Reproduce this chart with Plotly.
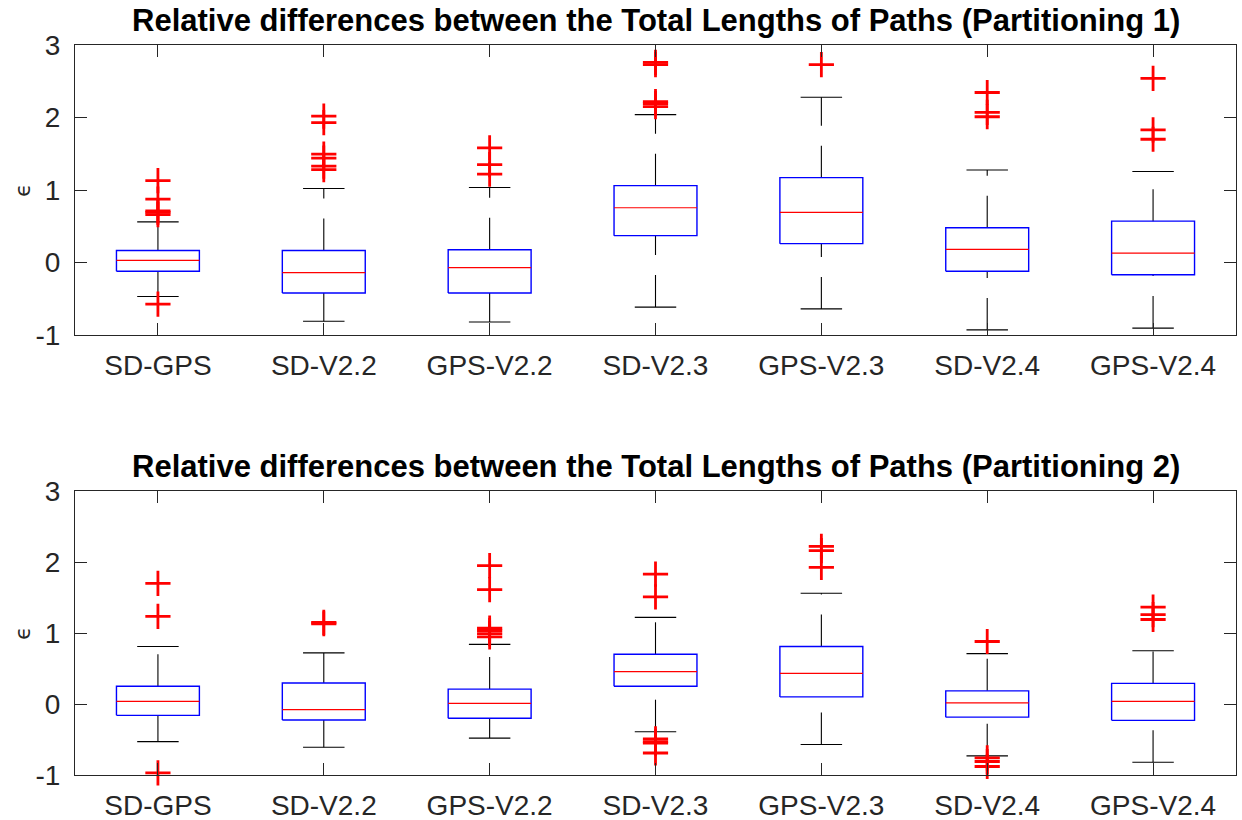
import plotly.graph_objects as go

categories = ["SD-GPS", "SD-V2.2", "GPS-V2.2", "SD-V2.3", "GPS-V2.3", "SD-V2.4", "GPS-V2.4"]
y_ticks = [-1, 0, 1, 2, 3]
y_tick_labels = ["-1", "0", "1", "2", "3"]

titles = ["Relative differences between the Total Lengths of Paths (Partitioning 1)",
          "Relative differences between the Total Lengths of Paths (Partitioning 2)"]

# Partitioning 1
p1_q1 = [-0.12, -0.42, -0.42, 0.37, 0.26, -0.12, -0.17]
p1_med = [0.03, -0.14, -0.07, 0.755, 0.69, 0.18, 0.13]
p1_q3 = [0.165, 0.165, 0.175, 1.06, 1.17, 0.48, 0.57]
p1_lo = [-0.47, -0.81, -0.82, -0.615, -0.64, -0.93, -0.905]
p1_hi = [0.56, 1.02, 1.035, 2.04, 2.28, 1.275, 1.255]
p1_out = [[1.13, 0.875, 0.71, 0.69, 0.66, -0.575],
          [2.02, 1.93, 1.495, 1.44, 1.33, 1.28],
          [1.58, 1.35, 1.22],
          [2.76, 2.73, 2.22, 2.19, 2.15],
          [2.73],
          [2.345, 2.07, 2.01],
          [2.54, 1.83, 1.70]]

# Partitioning 2
p2_q1 = [-0.16, -0.225, -0.20, 0.25, 0.10, -0.185, -0.23]
p2_med = [0.037, -0.08, 0.01, 0.455, 0.43, 0.015, 0.037]
p2_q3 = [0.25, 0.295, 0.21, 0.70, 0.81, 0.185, 0.29]
p2_lo = [-0.53, -0.61, -0.48, -0.39, -0.57, -0.73, -0.82]
p2_hi = [0.81, 0.72, 0.84, 1.22, 1.56, 0.71, 0.75]
p2_out = [[1.70, 1.235, -0.97],
          [1.15, 1.13],
          [1.95, 1.61, 1.07, 1.035, 0.99, 0.945],
          [1.83, 1.51, -0.49, -0.53, -0.55, -0.69],
          [2.22, 2.16, 1.925],
          [0.88, -0.76, -0.81, -0.88],
          [1.365, 1.26, 1.19]]

panels = [(p1_q1, p1_med, p1_q3, p1_lo, p1_hi, p1_out),
          (p2_q1, p2_med, p2_q3, p2_lo, p2_hi, p2_out)]

W, H = 1242, 820
ML, MR = 75, 6
domains = [[1 - 335 / H, 1 - 45 / H], [1 - 775 / H, 1 - 491 / H]]
title_y = [1 - 20 / H, 1 - 467 / H]

BW = 0.25   # half box width
CW = 0.125  # half cap width

fig = go.Figure()
pos = list(range(1, len(categories) + 1))

for i, (q1, med, q3, lo, hi, out) in enumerate(panels):
    xa = "x" if i == 0 else "x2"
    ya = "y" if i == 0 else "y2"
    bx, by, mx, my, ux, uy, lx, ly, cx, cy, ox, oy = ([] for _ in range(12))
    for k, c in enumerate(pos):
        bx += [c - BW, c + BW, c + BW, c - BW, c - BW, None]
        by += [q1[k], q1[k], q3[k], q3[k], q1[k], None]
        mx += [c - BW, c + BW, None]
        my += [med[k], med[k], None]
        ux += [c, c, None]
        uy += [q3[k], hi[k], None]
        lx += [c, c, None]
        ly += [lo[k], q1[k], None]
        cx += [c - CW, c + CW, None, c - CW, c + CW, None]
        cy += [hi[k], hi[k], None, lo[k], lo[k], None]
        for v in out[k]:
            ox.append(c)
            oy.append(v)
    fig.add_trace(go.Scatter(x=ux, y=uy, mode="lines", xaxis=xa, yaxis=ya,
                             line=dict(color="black", width=1.1, dash="32px,20px"),
                             hoverinfo="skip"))
    fig.add_trace(go.Scatter(x=lx, y=ly, mode="lines", xaxis=xa, yaxis=ya,
                             line=dict(color="black", width=1.1, dash="32px,20px"),
                             hoverinfo="skip"))
    fig.add_trace(go.Scatter(x=cx, y=cy, mode="lines", xaxis=xa, yaxis=ya,
                             line=dict(color="black", width=1.1), hoverinfo="skip"))
    fig.add_trace(go.Scatter(x=bx, y=by, mode="lines", xaxis=xa, yaxis=ya,
                             line=dict(color="#0000FF", width=1.4), hoverinfo="skip"))
    fig.add_trace(go.Scatter(x=mx, y=my, mode="lines", xaxis=xa, yaxis=ya,
                             line=dict(color="#FF0000", width=1.2), hoverinfo="skip"))
    fig.add_trace(go.Scatter(x=ox, y=oy, mode="markers", xaxis=xa, yaxis=ya,
                             cliponaxis=False,
                             marker=dict(symbol="cross-thin", size=18,
                                         line=dict(color="#FF0000", width=2.8),
                                         color="#FF0000")))

axis_common = dict(showline=True, mirror="ticks", linecolor="#262626", linewidth=1,
                   ticks="inside", ticklen=12, tickcolor="#262626", tickwidth=1,
                   showgrid=False, zeroline=False, automargin=False,
                   tickfont=dict(family="Liberation Sans, Arial, sans-serif",
                                 size=28, color="#262626"))

for i in range(2):
    sx = "" if i == 0 else "2"
    fig.layout["xaxis" + sx] = dict(axis_common, domain=[0, 1], range=[0.5, 7.5],
                                    tickvals=pos, ticktext=categories,
                                    anchor="y" + sx, ticklabelstandoff=5)
    fig.layout["yaxis" + sx] = dict(axis_common, domain=domains[i], range=[-1, 3],
                                    tickvals=y_ticks, ticktext=y_tick_labels,
                                    anchor="x" + sx, ticklabelstandoff=8)
    fig.add_annotation(text="<b>" + titles[i] + "</b>", xref="paper", yref="paper",
                       x=0.5, y=title_y[i], showarrow=False, xanchor="center",
                       yanchor="middle",
                       font=dict(family="Liberation Sans, Arial, sans-serif",
                                 size=31, color="black"))
    fig.add_annotation(text="ϵ", xref="paper", yref="paper",
                       x=(22 - ML) / (W - ML - MR), y=sum(domains[i]) / 2,
                       showarrow=False, textangle=-90, xanchor="center", yanchor="middle",
                       font=dict(family="DejaVu Sans, sans-serif", size=22, color="#262626"))

fig.update_layout(width=W, height=H, showlegend=False,
                  margin=dict(l=ML, r=MR, t=0, b=0),
                  paper_bgcolor="white", plot_bgcolor="white")

fig.write_html("out.html", config={"displayModeBar": False},
               post_script="document.body.style.margin='0px';document.body.style.padding='0px';")
